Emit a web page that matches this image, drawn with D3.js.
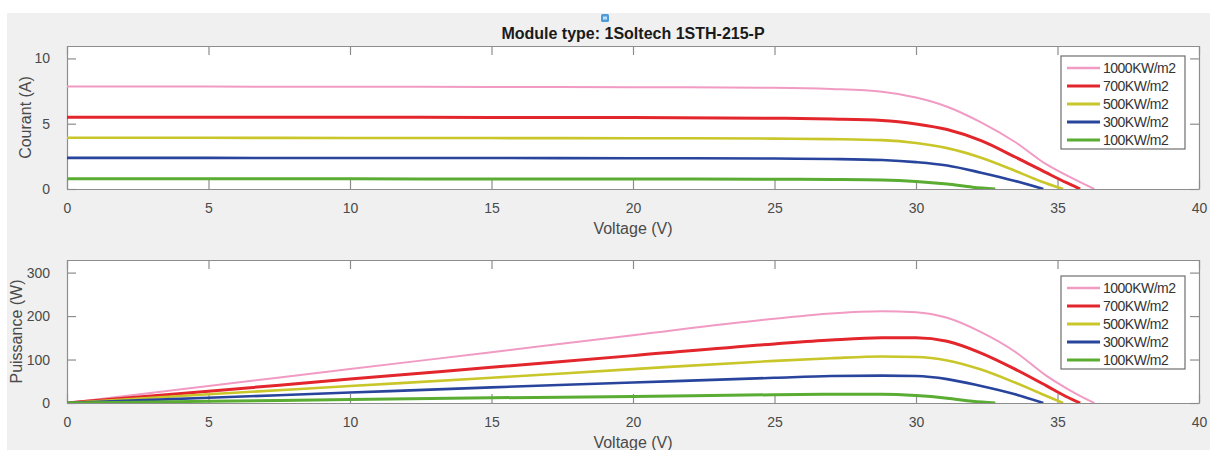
<!DOCTYPE html>
<html>
<head>
<meta charset="utf-8">
<script src="https://cdn.jsdelivr.net/npm/d3@7"></script>
<style>
  html, body { margin: 0; padding: 0; background: #ffffff; }
  svg { display: block; }
  text { font-family: "Liberation Sans", Arial, Helvetica, sans-serif; }
</style>
</head>
<body>
<svg id="fig" width="1210" height="450"></svg>
<script>
// Irradiance levels shown in both panels
const irradiance = ["1000KW/m2", "700KW/m2", "500KW/m2", "300KW/m2", "100KW/m2"];
const lineColors = ["#f19ac3", "#e2262c", "#c9c62a", "#28449c", "#5aac33"];
const lineWidths = [2, 3, 2.6, 2.6, 3];

// Voltage samples (V) for each irradiance level
const voltage1000 = [0, 5, 10, 15, 20, 25, 27, 28.8, 30, 31.1, 32.3, 33.5, 34.6, 35.5, 36.3];
const voltage700  = [0, 5, 10, 15, 20, 25, 27, 28.8, 30, 31.1, 32.3, 33.5, 34.6, 35.3, 35.8];
const voltage500  = [0, 5, 10, 15, 20, 25, 27, 28.8, 30, 31.1, 32.3, 33.5, 34.4, 35.2];
const voltage300  = [0, 5, 10, 15, 20, 25, 27, 28.8, 30, 31.1, 32.3, 33.5, 34.5];
const voltage100  = [0, 5, 10, 15, 20, 25, 27, 28.8, 30, 31.1, 32.0, 32.8];

// Current (A) at those voltages
const current1000 = [7.85, 7.84, 7.83, 7.82, 7.80, 7.75, 7.66, 7.45, 7.00, 6.30, 5.10, 3.60, 1.90, 0.85, 0];
const current700  = [5.50, 5.50, 5.49, 5.48, 5.47, 5.42, 5.36, 5.25, 4.98, 4.55, 3.70, 2.45, 1.25, 0.50, 0];
const current500  = [3.92, 3.92, 3.91, 3.90, 3.89, 3.86, 3.82, 3.74, 3.52, 3.13, 2.40, 1.40, 0.60, 0];
const current300  = [2.38, 2.38, 2.37, 2.37, 2.36, 2.33, 2.30, 2.22, 2.06, 1.80, 1.25, 0.62, 0];
const current100  = [0.78, 0.78, 0.78, 0.77, 0.77, 0.75, 0.73, 0.69, 0.58, 0.38, 0.14, 0];

// Power (W) at those voltages
const power1000 = [0, 39, 78, 117, 156, 194, 206, 211, 209, 196, 163, 118, 63, 27, 0];
const power700  = [0, 27, 55, 82, 109, 136, 145, 150, 150, 142, 115, 78, 40, 15, 0];
const power500  = [0, 20, 39, 58, 78, 97, 103, 107, 106, 98, 77, 47, 22, 0];
const power300  = [0, 12, 24, 36, 47, 58, 62, 63, 62, 55, 39, 20, 0];
const power100  = [0, 4, 8, 12, 15, 19, 20, 20, 17, 11, 4, 0];

// Axis ticks
const voltageTicks = [0, 5, 10, 15, 20, 25, 30, 35, 40];
const currentTicks = [0, 5, 10];
const powerTicks = [0, 100, 200, 300];

const voltages = [voltage1000, voltage700, voltage500, voltage300, voltage100];
const currents = [current1000, current700, current500, current300, current100];
const powers = [power1000, power700, power500, power300, power100];

const svg = d3.select("#fig");

// figure background
svg.append("rect").attr("x", 7).attr("y", 13).attr("width", 1203).attr("height", 437).attr("fill", "#f0f0f0");

const plotLeft = 67, plotRight = 1199;
const x = d3.scaleLinear().domain([0, 40]).range([plotLeft, plotRight]);

function drawPanel(cfg) {
  const y = d3.scaleLinear().domain(cfg.yDomain).range([cfg.bottom, cfg.top]);
  const g = svg.append("g");
  const clipId = "clip" + cfg.id;
  svg.append("clipPath").attr("id", clipId).append("rect")
    .attr("x", plotLeft).attr("y", cfg.top).attr("width", plotRight - plotLeft).attr("height", cfg.bottom - cfg.top);

  g.append("rect").attr("x", plotLeft).attr("y", cfg.top)
    .attr("width", plotRight - plotLeft).attr("height", cfg.bottom - cfg.top).attr("fill", "#ffffff");

  const tickLen = 9;
  const axisColor = "#8d8d8d";
  const labelColor = "#4a4a4a";

  // axes with inward ticks on all four sides
  const xb = g.append("g").attr("transform", `translate(0,${cfg.bottom})`)
    .call(d3.axisBottom(x).tickValues(voltageTicks).tickSizeInner(-tickLen).tickSizeOuter(0).tickPadding(14));
  const xt = g.append("g").attr("transform", `translate(0,${cfg.top})`)
    .call(d3.axisTop(x).tickValues(voltageTicks).tickSizeInner(-tickLen).tickSizeOuter(0).tickFormat(""));
  const yl = g.append("g").attr("transform", `translate(${plotLeft},0)`)
    .call(d3.axisLeft(y).tickValues(cfg.ticks).tickSizeInner(-tickLen).tickSizeOuter(0).tickPadding(17));
  const yr = g.append("g").attr("transform", `translate(${plotRight},0)`)
    .call(d3.axisRight(y).tickValues(cfg.ticks).tickSizeInner(-tickLen).tickSizeOuter(0).tickFormat(""));
  [xb, xt, yl, yr].forEach(a => {
    a.select(".domain").attr("stroke", axisColor).attr("stroke-width", 1.2);
    a.selectAll(".tick line").attr("stroke", axisColor).attr("stroke-width", 1.2);
    a.selectAll(".tick text").attr("fill", labelColor).attr("font-size", 14)
      .attr("font-family", "'Liberation Sans', Arial, sans-serif");
  });

  // axis labels
  g.append("text").attr("x", (plotLeft + plotRight) / 2).attr("y", cfg.bottom + 45)
    .attr("text-anchor", "middle").attr("font-size", 16).attr("fill", labelColor).text("Voltage (V)");
  g.append("text").attr("transform", `translate(${cfg.yLabelX},${(cfg.top + cfg.bottom) / 2}) rotate(-90)`)
    .attr("text-anchor", "middle").attr("font-size", 16).attr("fill", labelColor).text(cfg.yLabel);

  // curves
  const line = d3.line().x(d => x(d[0])).y(d => y(d[1])).curve(d3.curveMonotoneX);
  const plot = g.append("g").attr("clip-path", `url(#${clipId})`);
  irradiance.forEach((name, i) => {
    const pts = voltages[i].map((v, k) => [v, cfg.values[i][k]]);
    plot.append("path").datum(pts).attr("d", line)
      .attr("fill", "none").attr("stroke", lineColors[i]).attr("stroke-width", lineWidths[i])
      .attr("stroke-linejoin", "round").attr("stroke-linecap", "butt");
  });

  // legend
  const lg = g.append("g").attr("transform", `translate(1061,${cfg.legendTop})`);
  lg.append("rect").attr("width", 124).attr("height", 93).attr("fill", "#ffffff")
    .attr("stroke", "#6e6e6e").attr("stroke-width", 1.2);
  irradiance.forEach((name, i) => {
    const ly = 12 + i * 18;
    lg.append("line").attr("x1", 6).attr("x2", 39).attr("y1", ly).attr("y2", ly)
      .attr("stroke", lineColors[i]).attr("stroke-width", i === 0 ? 2.4 : 3);
    lg.append("text").attr("x", 42).attr("y", ly).attr("dy", "0.35em")
      .attr("font-size", 14).attr("fill", "#333333").attr("letter-spacing", -0.5).text(name);
  });
}

drawPanel({ id: "I", top: 46, bottom: 189, yDomain: [0, 10.95], ticks: currentTicks,
  values: currents, yLabel: "Courant (A)", yLabelX: 31, legendTop: 56 });
drawPanel({ id: "P", top: 260, bottom: 403, yDomain: [0, 329], ticks: powerTicks,
  values: powers, yLabel: "Puissance (W)", yLabelX: 22, legendTop: 276 });

// title
svg.append("text").attr("x", 633).attr("y", 39).attr("text-anchor", "middle")
  .attr("font-size", 16).attr("font-weight", "bold").attr("fill", "#1a1a1a")
  .text("Module type: 1Soltech 1STH-215-P");

// small marker above the title
svg.append("rect").attr("x", 601).attr("y", 14).attr("width", 8).attr("height", 8).attr("rx", 1.5)
  .attr("fill", "#4f9ad8");
svg.append("rect").attr("x", 603).attr("y", 16.5).attr("width", 4).attr("height", 3)
  .attr("fill", "#bfe0f7");
</script>
</body>
</html>
